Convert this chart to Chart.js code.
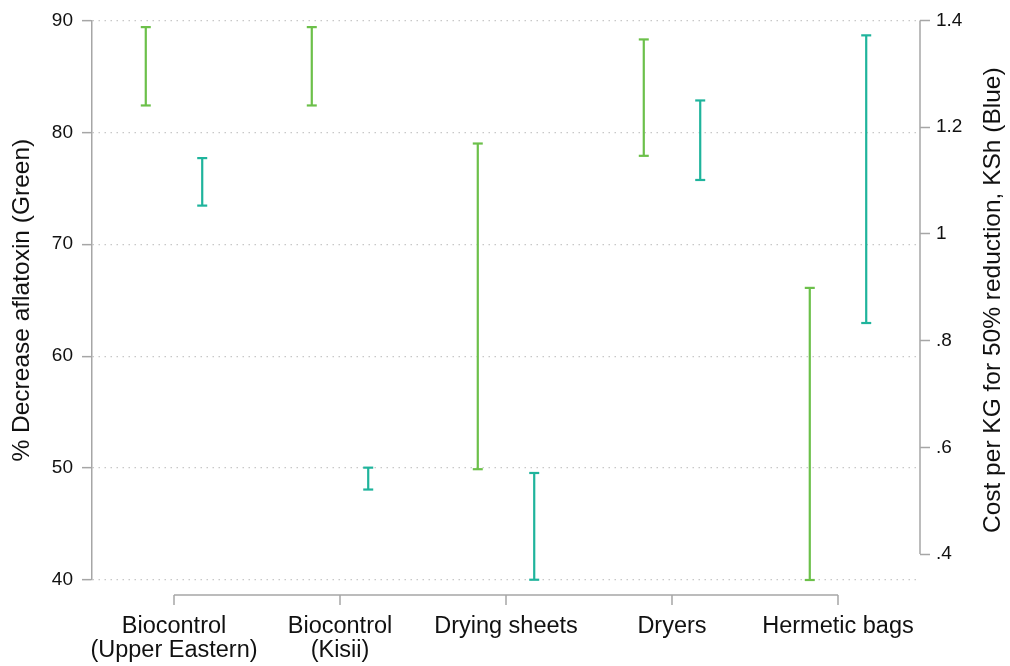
<!DOCTYPE html>
<html>
<head>
	<title>Aflatoxin reduction and cost</title>
	<meta charset="utf-8">
	<script src="https://cdn.jsdelivr.net/npm/chart.js"></script>
	<style>
		html, body { margin: 0; padding: 0; background: #fff; }
		#wrap { width: 1010px; height: 666px; }
	</style>
</head>
<body>
<div id="wrap"><canvas id="myChart" width="1010" height="666"></canvas></div>
<script>
// categories on the x axis
var categories = [
	['Biocontrol', '(Upper Eastern)'],
	['Biocontrol', '(Kisii)'],
	'Drying sheets',
	'Dryers',
	'Hermetic bags'
];
// % decrease aflatoxin (green, left axis), low / high
var greenLow  = [82.4, 82.4, 49.9, 77.9, 40.0];
var greenHigh = [89.4, 89.4, 79.0, 88.3, 66.1];
// cost per KG for 50% reduction, KSh (blue, right axis), low / high
var blueLow  = [1.053, 0.521, 0.352, 1.101, 0.833];
var blueHigh = [1.142, 0.562, 0.552, 1.250, 1.372];
// tick values
var leftTicks  = [40, 50, 60, 70, 80, 90];
var rightTicks = [0.4, 0.6, 0.8, 1.0, 1.2, 1.4];

var greenColor = '#6cc04a';
var blueColor  = '#1fb49c';
var axisColor  = '#a6a6a6';
var textColor  = '#111111';
var fontFamily = '"Liberation Sans", Arial, sans-serif';

// one line dataset per series: low point, high point, gap
function rangePoints(lows, highs, shift)
{
	var pts = [];
	for (var i = 0; i < lows.length; i++) {
		pts.push({x: i + 1 + shift, y: lows[i]});
		pts.push({x: i + 1 + shift, y: highs[i]});
		pts.push({x: i + 1 + shift, y: null});
	}
	return pts;
}

function stataNum(v)
{
	var s = String(Math.round(v * 10) / 10);
	return s.replace(/^0\./, '.');
}

var axesPlugin = {
	id: 'stataAxes',
	afterDraw: function(chart) {
		var ctx = chart.ctx;
		var area = chart.chartArea;
		var xs = chart.scales.x;
		var yr = chart.scales.y2;
		ctx.save();
		ctx.strokeStyle = axisColor;
		ctx.lineWidth = 1.5;
		// x axis, offset below the plot
		var yLine = area.bottom + 15;
		ctx.beginPath();
		ctx.moveTo(xs.getPixelForValue(1), yLine);
		ctx.lineTo(xs.getPixelForValue(categories.length), yLine);
		for (var i = 1; i <= categories.length; i++) {
			var px = xs.getPixelForValue(i);
			ctx.moveTo(px, yLine);
			ctx.lineTo(px, yLine + 10);
		}
		// right axis line, only over its tick range
		ctx.moveTo(yr.left, yr.getPixelForValue(rightTicks[0]));
		ctx.lineTo(yr.left, yr.getPixelForValue(rightTicks[rightTicks.length - 1]));
		ctx.stroke();

		// axis titles, both read bottom to top
		ctx.fillStyle = textColor;
		ctx.font = '24.5px ' + fontFamily;
		ctx.textAlign = 'center';
		ctx.textBaseline = 'middle';
		var midY = (area.top + area.bottom) / 2;
		ctx.save();
		ctx.translate(22, midY);
		ctx.rotate(-Math.PI / 2);
		ctx.fillText('% Decrease aflatoxin (Green)', 0, 0);
		ctx.restore();
		ctx.save();
		ctx.translate(993, midY);
		ctx.rotate(-Math.PI / 2);
		ctx.fillText('Cost per KG for 50% reduction, KSh (Blue)', 0, 0);
		ctx.restore();
		ctx.restore();
	}
};

var chartConfig = {
	type: 'line',
	data: {
		datasets: [{
			label: '% Decrease aflatoxin',
			data: rangePoints(greenLow, greenHigh, -0.17),
			yAxisID: 'y',
			borderColor: greenColor,
			borderWidth: 2.2,
			pointStyle: 'line',
			pointRadius: 5,
			pointBorderWidth: 2.2,
			pointBorderColor: greenColor,
			spanGaps: false,
			clip: false
		}, {
			label: 'Cost per KG',
			data: rangePoints(blueLow, blueHigh, 0.17),
			yAxisID: 'y2',
			borderColor: blueColor,
			borderWidth: 2.2,
			pointStyle: 'line',
			pointRadius: 5,
			pointBorderWidth: 2.2,
			pointBorderColor: blueColor,
			spanGaps: false,
			clip: false
		}]
	},
	options: {
		responsive: false,
		animation: false,
		layout: { padding: { top: 16, left: 0, right: 0, bottom: 0 } },
		plugins: {
			legend: { display: false },
			tooltip: { enabled: false }
		},
		scales: {
			x: {
				type: 'linear',
				min: 0.506,
				max: 5.494,
				afterBuildTicks: function(scale) {
					scale.ticks = categories.map(function(c, i) { return {value: i + 1}; });
				},
				afterFit: function(scale) { scale.height = 86; },
				ticks: {
					callback: function(v) { return categories[v - 1]; },
					font: { family: fontFamily, size: 23.5, lineHeight: 1.03 },
					color: textColor,
					padding: 34,
					maxRotation: 0,
					autoSkip: false
				},
				grid: { display: false, drawTicks: false },
				border: { display: false }
			},
			y: {
				position: 'left',
				min: 40,
				max: 90,
				afterBuildTicks: function(scale) {
					scale.ticks = leftTicks.map(function(v) { return {value: v}; });
				},
				afterFit: function(scale) { scale.width = 92; },
				ticks: {
					font: { family: fontFamily, size: 19 },
					color: textColor,
					padding: 9
				},
				grid: {
					color: '#c8c8c8',
					lineWidth: 1.3,
					tickLength: 10,
					tickColor: axisColor,
					tickWidth: 1.5,
					tickBorderDash: []
				},
				border: { display: true, color: axisColor, width: 1.5, dash: [1.5, 4.5] }
			},
			y2: {
				position: 'right',
				min: 0.3515,
				max: 1.4,
				afterBuildTicks: function(scale) {
					scale.ticks = rightTicks.map(function(v) { return {value: v}; });
				},
				afterFit: function(scale) { scale.width = 90; },
				ticks: {
					callback: function(v) { return stataNum(v); },
					font: { family: fontFamily, size: 19 },
					color: textColor,
					padding: 6
				},
				grid: {
					drawOnChartArea: false,
					tickLength: 10,
					tickColor: axisColor,
					tickWidth: 1.5
				},
				border: { display: false }
			}
		}
	},
	plugins: [axesPlugin]
};

var myChart = new Chart(document.getElementById('myChart'), chartConfig);
</script>
</body>
</html>
